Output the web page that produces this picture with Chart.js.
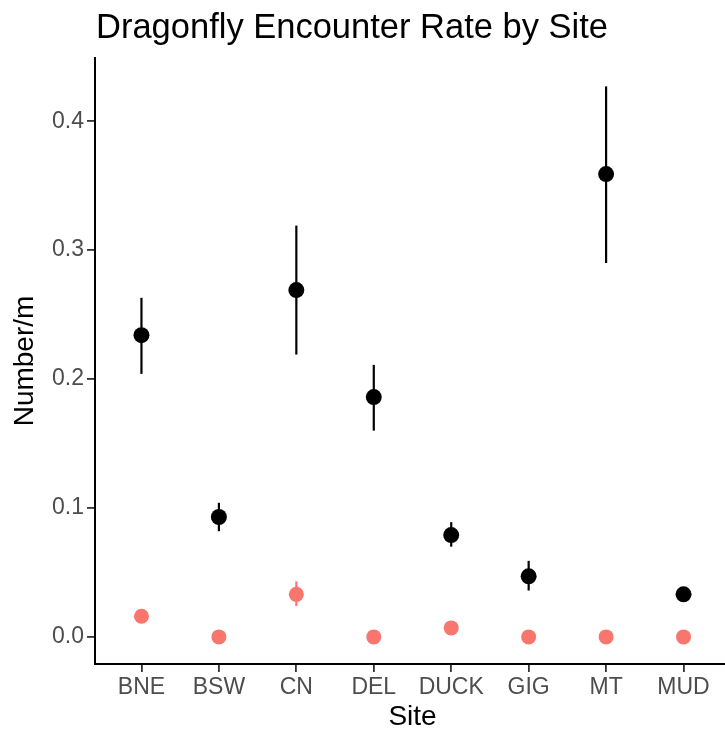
<!DOCTYPE html>
<html>
<head>
<meta charset="utf-8">
<script src="https://cdn.jsdelivr.net/npm/chart.js@4"></script>
<style>
  html, body { margin: 0; padding: 0; background: #fff; overflow: hidden; }
  #wrap { width: 725px; height: 734px; position: relative; overflow: hidden; }
</style>
</head>
<body>
<div id="wrap"><canvas id="c" width="738" height="734"></canvas></div>
<script>
// Sites along the x axis
const sites = ['BNE', 'BSW', 'CN', 'DEL', 'DUCK', 'GIG', 'MT', 'MUD'];

// Encounter rate (number per metre) with lower / upper error limits
const rateA = [0.234, 0.093, 0.269, 0.186, 0.079, 0.047, 0.359, 0.033];
const lowA  = [0.204, 0.082, 0.219, 0.160, 0.070, 0.036, 0.290, 0.030];
const highA = [0.263, 0.104, 0.319, 0.211, 0.089, 0.059, 0.427, 0.036];

const rateB = [0.016, 0.000, 0.033, 0.000, 0.007, 0.000, 0.000, 0.000];
const lowB  = [0.013, 0.000, 0.024, 0.000, 0.005, 0.000, 0.000, 0.000];
const highB = [0.019, 0.000, 0.043, 0.000, 0.009, 0.000, 0.000, 0.000];

const yTicks = [0.0, 0.1, 0.2, 0.3, 0.4];

const toPoints = (vals) => vals.map((v, i) => ({ x: i, y: v }));

// Vertical error segments, drawn underneath the points
const errorBars = {
  id: 'errorBars',
  beforeDatasetsDraw(chart) {
    const { ctx, scales: { x, y } } = chart;
    const sets = [
      { lo: lowB, hi: highB, color: '#F8766D' },
      { lo: lowA, hi: highA, color: '#000000' }
    ];
    ctx.save();
    ctx.lineWidth = 2.2;
    sets.forEach(s => {
      ctx.strokeStyle = s.color;
      s.lo.forEach((lo, i) => {
        const px = x.getPixelForValue(i);
        ctx.beginPath();
        ctx.moveTo(px, y.getPixelForValue(lo));
        ctx.lineTo(px, y.getPixelForValue(s.hi[i]));
        ctx.stroke();
      });
    });
    ctx.restore();
  }
};

// Plot title, aligned with the left edge of the plotting area
const plotTitle = {
  id: 'plotTitle',
  afterDraw(chart) {
    const { ctx, chartArea } = chart;
    ctx.save();
    ctx.fillStyle = '#000';
    ctx.font = '34.5px "Liberation Sans", Arial, sans-serif';
    ctx.textBaseline = 'alphabetic';
    ctx.textAlign = 'left';
    ctx.fillText('Dragonfly Encounter Rate by Site', chartArea.left + 1, 38);
    ctx.restore();
  }
};

const tickFont = { family: '"Liberation Sans", Arial, sans-serif', size: 23 };
const titleFont = { family: '"Liberation Sans", Arial, sans-serif', size: 28 };

new Chart(document.getElementById('c'), {
  type: 'scatter',
  data: {
    datasets: [
      {
        label: 'B',
        data: toPoints(rateB),
        backgroundColor: '#F8766D',
        borderColor: '#F8766D',
        pointRadius: 7.5,
        borderWidth: 0
      },
      {
        label: 'A',
        data: toPoints(rateA),
        backgroundColor: '#000000',
        borderColor: '#000000',
        pointRadius: 8,
        borderWidth: 0
      }
    ]
  },
  options: {
    responsive: false,
    animation: false,
    events: [],
    layout: { padding: { top: 58, left: 0, right: 0, bottom: 0 } },
    plugins: {
      legend: { display: false },
      tooltip: { enabled: false },
      title: { display: false }
    },
    scales: {
      x: {
        type: 'linear',
        min: -0.6,
        max: 7.6,
        afterBuildTicks(scale) {
          scale.ticks = sites.map((_, i) => ({ value: i }));
        },
        afterFit(scale) {
          scale.height = 70;
          scale.paddingLeft = 0;
          scale.paddingRight = 0;
        },
        grid: {
          display: true,
          drawOnChartArea: false,
          drawTicks: true,
          tickLength: 8,
          color: '#333',
          lineWidth: 1.8
        },
        border: { display: true, color: '#000', width: 2 },
        ticks: {
          autoSkip: false,
          maxRotation: 0,
          padding: 2,
          color: '#4d4d4d',
          font: tickFont,
          callback: (v) => sites[v]
        },
        title: {
          display: true,
          text: 'Site',
          color: '#000',
          font: titleFont,
          padding: { top: 2, bottom: 0 }
        }
      },
      y: {
        type: 'linear',
        min: -0.021,
        max: 0.449,
        afterBuildTicks(scale) {
          scale.ticks = yTicks.map(v => ({ value: v }));
        },
        afterFit(scale) {
          scale.width = 95;
          scale.paddingTop = 0;
          scale.paddingBottom = 0;
        },
        grid: {
          display: true,
          drawOnChartArea: false,
          drawTicks: true,
          tickLength: 8,
          color: '#333',
          lineWidth: 1.8
        },
        border: { display: true, color: '#000', width: 2 },
        ticks: {
          padding: 3,
          color: '#4d4d4d',
          font: tickFont,
          callback: (v) => v.toFixed(1)
        },
        title: {
          display: true,
          text: 'Number/m',
          color: '#000',
          font: titleFont,
          padding: { top: 8, bottom: 0 }
        }
      }
    }
  },
  plugins: [errorBars, plotTitle]
});
</script>
</body>
</html>
